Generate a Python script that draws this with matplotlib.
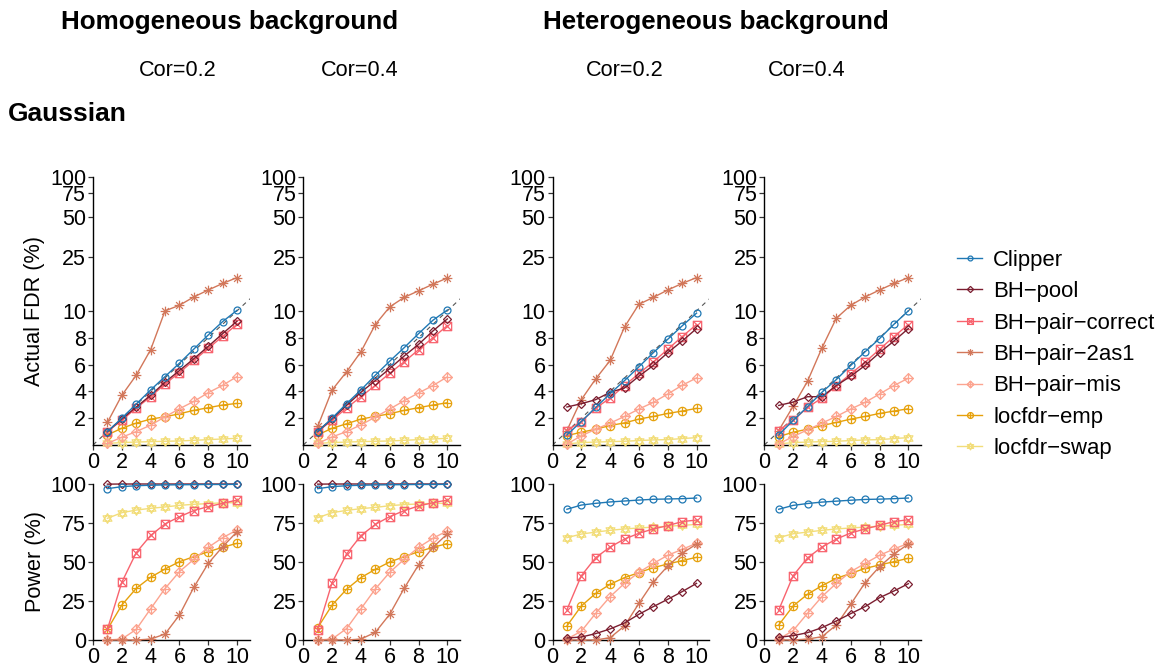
import numpy as np
import matplotlib
matplotlib.use("Agg")
import matplotlib.pyplot as plt
from matplotlib.path import Path
from matplotlib.lines import Line2D

plt.rcParams['font.family'] = ['Liberation Sans', 'DejaVu Sans']

# ---- data -------------------------------------------------------------
target_fdr = np.arange(1, 11)

methods = ['Clipper', 'BH\u2212pool', 'BH\u2212pair\u2212correct', 'BH\u2212pair\u22122as1',
           'BH\u2212pair\u2212mis', 'locfdr\u2212emp', 'locfdr\u2212swap']

# actual FDR (%), one list per panel: homog 0.2, homog 0.4, hetero 0.2, hetero 0.4
fdr_clipper = [
    [1.0, 2.0, 3.05, 4.1, 5.1, 6.1, 7.15, 8.2, 9.2, 10.1],
    [1.0, 2.0, 3.08, 4.1, 5.2, 6.25, 7.25, 8.3, 9.3, 10.15],
    [0.75, 1.75, 2.8, 3.83, 4.8, 5.83, 6.88, 7.88, 8.88, 9.83],
    [0.75, 1.83, 2.85, 3.93, 4.88, 5.93, 6.95, 7.93, 9.0, 10.0],
]
fdr_bh_pool = [
    [1.0, 1.93, 2.83, 3.7, 4.68, 5.55, 6.43, 7.35, 8.3, 9.23],
    [1.0, 1.95, 2.95, 3.93, 4.8, 5.7, 6.63, 7.5, 8.5, 9.4],
    [2.83, 3.08, 3.38, 3.93, 4.25, 5.13, 5.93, 6.88, 7.75, 8.68],
    [2.95, 3.2, 3.6, 3.6, 4.43, 5.13, 5.93, 6.88, 7.75, 8.68],
]
fdr_bh_correct = [
    [1.0, 1.85, 2.75, 3.6, 4.55, 5.4, 6.3, 7.2, 8.1, 9.0],
    [1.0, 1.85, 2.75, 3.6, 4.45, 5.35, 6.2, 7.1, 8.0, 8.9],
    [1.08, 1.75, 2.75, 3.5, 4.43, 5.33, 6.2, 7.13, 8.08, 8.98],
    [1.08, 1.83, 2.8, 3.5, 4.43, 5.3, 6.18, 7.13, 8.08, 8.98],
]
fdr_bh_2as1 = [
    [1.68, 3.7, 5.2, 7.1, 10.0, 11.0, 12.7, 14.3, 16.0, 17.7],
    [1.38, 4.1, 5.45, 6.95, 8.98, 10.7, 12.6, 14.1, 15.8, 17.6],
    [1.08, 3.38, 4.93, 6.3, 8.8, 11.2, 12.6, 14.3, 16.0, 17.7],
    [1.08, 2.88, 4.75, 7.23, 9.45, 11.0, 12.7, 14.3, 16.0, 17.7],
]
fdr_bh_mis = [
    [0.12, 0.58, 1.0, 1.48, 2.1, 2.7, 3.25, 3.9, 4.45, 5.1],
    [0.12, 0.6, 1.0, 1.5, 2.08, 2.68, 3.3, 3.88, 4.43, 5.08],
    [0.08, 0.68, 1.18, 1.63, 2.13, 2.68, 3.18, 3.8, 4.45, 5.0],
    [0.08, 0.63, 1.13, 1.63, 2.13, 2.68, 3.18, 3.8, 4.43, 4.98],
]
fdr_locfdr_emp = [
    [0.75, 1.25, 1.63, 1.93, 2.1, 2.33, 2.58, 2.78, 2.98, 3.1],
    [0.75, 1.25, 1.58, 1.93, 2.13, 2.33, 2.58, 2.78, 2.98, 3.15],
    [0.7, 0.95, 1.18, 1.45, 1.65, 1.93, 2.13, 2.35, 2.53, 2.73],
    [0.63, 0.95, 1.18, 1.45, 1.68, 1.93, 2.13, 2.35, 2.53, 2.7],
]
fdr_locfdr_swap = [
    [0.12, 0.18, 0.22, 0.25, 0.28, 0.3, 0.35, 0.4, 0.45, 0.5],
    [0.12, 0.18, 0.22, 0.25, 0.28, 0.3, 0.35, 0.4, 0.45, 0.5],
    [0.08, 0.18, 0.22, 0.25, 0.28, 0.33, 0.38, 0.4, 0.48, 0.55],
    [0.08, 0.18, 0.22, 0.25, 0.28, 0.33, 0.38, 0.4, 0.48, 0.55],
]

# power (%)
pow_clipper = [
    [97.0, 98.3, 98.9, 99.2, 99.4, 99.5, 99.6, 99.7, 99.7, 99.8],
    [97.0, 98.3, 98.9, 99.2, 99.4, 99.5, 99.6, 99.7, 99.7, 99.8],
    [83.8, 86.5, 87.6, 88.5, 89.1, 89.7, 90.2, 90.4, 90.6, 91.0],
    [83.8, 86.3, 87.5, 88.4, 89.0, 89.6, 90.1, 90.3, 90.6, 91.0],
]
pow_bh_pool = [
    [99.9, 100, 100, 100, 100, 100, 100, 100, 100, 100],
    [99.9, 100, 100, 100, 100, 100, 100, 100, 100, 100],
    [1.3, 1.9, 4.1, 7.1, 10.9, 16.5, 21.4, 26.1, 31.0, 36.3],
    [1.7, 2.8, 4.7, 7.9, 12.2, 16.9, 21.4, 27.1, 31.4, 36.1],
]
pow_bh_correct = [
    [6.8, 37.0, 56.0, 67.0, 74.4, 79.0, 83.0, 85.5, 87.6, 89.7],
    [6.4, 36.8, 55.1, 66.9, 74.1, 79.1, 82.9, 85.9, 88.0, 89.7],
    [19.4, 41.2, 52.8, 59.6, 64.7, 68.4, 71.2, 73.3, 75.9, 76.9],
    [19.2, 41.2, 52.6, 59.6, 64.7, 68.6, 71.2, 73.5, 75.9, 77.1],
]
pow_bh_2as1 = [
    [0.0, 0.0, 0.0, 0.6, 3.8, 16.0, 33.8, 49.1, 59.8, 69.4],
    [0.0, 0.0, 0.0, 0.6, 4.9, 16.5, 33.1, 48.1, 59.4, 68.0],
    [0.0, 0.0, 0.0, 1.5, 9.0, 23.5, 37.2, 47.4, 55.6, 61.5],
    [0.0, 0.0, 0.6, 2.1, 9.6, 22.9, 36.8, 47.0, 55.1, 61.5],
]
pow_bh_mis = [
    [0.0, 0.6, 6.8, 20.0, 33.0, 43.8, 51.7, 59.4, 65.6, 70.5],
    [0.0, 0.6, 7.3, 20.0, 32.7, 43.4, 51.7, 59.4, 65.2, 70.0],
    [0.6, 5.6, 17.1, 27.8, 36.3, 43.4, 49.1, 54.3, 58.1, 62.0],
    [0.6, 6.0, 17.1, 27.8, 36.3, 43.8, 49.1, 54.3, 58.3, 62.0],
]
pow_locfdr_emp = [
    [6.8, 22.4, 33.1, 40.2, 45.5, 50.2, 53.4, 56.6, 59.4, 62.0],
    [7.9, 22.4, 32.5, 40.0, 45.3, 50.0, 53.4, 56.6, 59.4, 61.8],
    [9.0, 21.8, 29.9, 35.7, 40.0, 43.2, 46.4, 48.7, 50.9, 53.0],
    [9.6, 21.8, 29.3, 34.8, 39.5, 42.7, 45.9, 48.1, 50.2, 52.4],
]
pow_locfdr_swap = [
    [78.0, 81.6, 83.3, 84.4, 85.3, 86.3, 87.0, 87.4, 88.0, 88.0],
    [78.4, 81.6, 83.1, 84.2, 85.0, 86.1, 86.8, 87.2, 87.6, 87.6],
    [65.6, 67.9, 69.2, 70.3, 71.2, 71.8, 72.4, 72.9, 73.5, 74.1],
    [65.6, 68.1, 69.2, 70.3, 71.2, 71.8, 72.4, 72.9, 73.5, 74.1],
]

fdr_series = [fdr_clipper, fdr_bh_pool, fdr_bh_correct, fdr_bh_2as1,
              fdr_bh_mis, fdr_locfdr_emp, fdr_locfdr_swap]
pow_series = [pow_clipper, pow_bh_pool, pow_bh_correct, pow_bh_2as1,
              pow_bh_mis, pow_locfdr_emp, pow_locfdr_swap]

colors = ['#1f78b4', '#7b1e30', '#f8636e', '#d2775a', '#fca490', '#e6a10c', '#f2dd7a']


# ---- marker shapes (ggplot-like point shapes) --------------------------
def _lines(*segs):
    verts, codes = [], []
    for (x0, y0), (x1, y1) in segs:
        verts += [(x0, y0), (x1, y1)]
        codes += [Path.MOVETO, Path.LINETO]
    return Path(verts, codes)


def _poly(pts):
    return Path(pts + [pts[0]], [Path.MOVETO] + [Path.LINETO] * (len(pts) - 1) + [Path.CLOSEPOLY])


sq = _poly([(-1, -1), (1, -1), (1, 1), (-1, 1)])
dia = _poly([(0, -1.3), (1.3, 0), (0, 1.3), (-1.3, 0)])
square_cross = Path.make_compound_path(sq, _lines(((-1, -1), (1, 1)), ((-1, 1), (1, -1))))
asterisk = _lines(((-1, 0), (1, 0)), ((0, -1), (0, 1)),
                  ((-0.7, -0.7), (0.7, 0.7)), ((-0.7, 0.7), (0.7, -0.7)))
diamond_plus = Path.make_compound_path(dia, _lines(((-1.3, 0), (1.3, 0)), ((0, -1.3), (0, 1.3))))
circle_plus = Path.make_compound_path(Path.unit_circle(), _lines(((-1, 0), (1, 0)), ((0, -1), (0, 1))))
star_david = Path.make_compound_path(_poly([(-1, -0.6), (1, -0.6), (0, 1.1)]),
                                     _poly([(-1, 0.6), (1, 0.6), (0, -1.1)]))

markers = ['o', 'D', square_cross, asterisk, diamond_plus, circle_plus, star_david]
msizes = [5, 4.5, 6, 7, 7, 6, 7]


# ---- FDR axis: linear up to 10, log10 above ----------------------------
def fwd(y):
    y = np.asarray(y, dtype=float)
    return np.where(y <= 10, y, 10 + 10 * np.log10(np.maximum(y, 10) / 10))


def inv(f):
    f = np.asarray(f, dtype=float)
    return np.where(f <= 10, f, 10 * 10 ** ((np.maximum(f, 10) - 10) / 10))


W, H = 1164, 668
fig = plt.figure(figsize=(W / 100, H / 100), dpi=100)

col_left = [93, 303.3, 552.5, 764.3]
col_w = 157
fdr_top, fdr_bot = 176.7, 445
pow_top, pow_bot = 484, 640


def px_axes(x0, top, w, bot):
    return fig.add_axes([x0 / W, 1 - bot / H, w / W, (bot - top) / H])


def style(ax):
    for s in ['top', 'right']:
        ax.spines[s].set_visible(False)
    for s in ['left', 'bottom']:
        ax.spines[s].set_color('black')
        ax.spines[s].set_linewidth(1.0)
    ax.tick_params(axis='both', length=3.5, width=0.9, color='#333333',
                   labelsize=15.5, labelcolor='black', pad=1.5)
    ax.set_xlim(0, 10.9)
    ax.set_xticks([0, 2, 4, 6, 8, 10])


for p in range(4):
    # top row: actual FDR
    ax = px_axes(col_left[p], fdr_top, col_w, fdr_bot)
    ax.set_yscale('function', functions=(fwd, inv))
    ax.set_ylim(0, 100)
    xs = np.linspace(0, 10.9, 300)
    ax.plot(xs, inv(xs), color='#555555', lw=0.8, ls=(0, (4, 4)), zorder=1)
    for k in reversed(range(len(methods))):
        ax.plot(target_fdr, fdr_series[k][p], color=colors[k], lw=1.0,
                marker=markers[k], ms=msizes[k], mfc='none', mec=colors[k],
                mew=0.9, clip_on=False, zorder=2 + (len(methods) - k))
    ax.set_yticks([2, 4, 6, 8, 10, 25, 50, 75, 100])
    ax.set_yticklabels(['2', '4', '6', '8', '10', '25', '50', '75', '100'])
    ax.yaxis.set_minor_locator(matplotlib.ticker.NullLocator())
    style(ax)

    # bottom row: power
    ax = px_axes(col_left[p], pow_top, col_w, pow_bot)
    ax.set_ylim(0, 100)
    for k in reversed(range(len(methods))):
        ax.plot(target_fdr, pow_series[k][p], color=colors[k], lw=1.0,
                marker=markers[k], ms=msizes[k], mfc='none', mec=colors[k],
                mew=0.9, clip_on=False, zorder=2 + (len(methods) - k))
    ax.set_yticks([0, 25, 50, 75, 100])
    style(ax)

# titles and labels
fig.text(230 / W, 1 - 22 / H, 'Homogeneous background', ha='center', va='center',
         fontsize=18.7, fontweight='bold')
fig.text(716 / W, 1 - 22 / H, 'Heterogeneous background', ha='center', va='center',
         fontsize=18.7, fontweight='bold')
for xc, lab in zip([178, 360, 625, 807], ['Cor=0.2', 'Cor=0.4', 'Cor=0.2', 'Cor=0.4']):
    fig.text(xc / W, 1 - 70 / H, lab, ha='center', va='center', fontsize=15.6)
fig.text(8 / W, 1 - 114 / H, 'Gaussian', ha='left', va='center', fontsize=19, fontweight='bold')
fig.text(35 / W, 1 - 311 / H, 'Actual FDR (%)', rotation=90, ha='center', va='center', fontsize=15.6)
fig.text(35 / W, 1 - 562 / H, 'Power (%)', rotation=90, ha='center', va='center', fontsize=15.6)

handles = [Line2D([], [], color=c, lw=1.0, marker=m, ms=s * 0.7, mfc='none', mec=c, mew=0.9)
           for c, m, s in zip(colors, markers, msizes)]
fig.legend(handles, methods, loc='upper left', bbox_to_anchor=(948 / W, 1 - 241 / H),
           frameon=False, fontsize=15.9, handlelength=1.15, handletextpad=0.5,
           labelspacing=0.47, borderaxespad=0)

fig.savefig('out.png', dpi=100)
